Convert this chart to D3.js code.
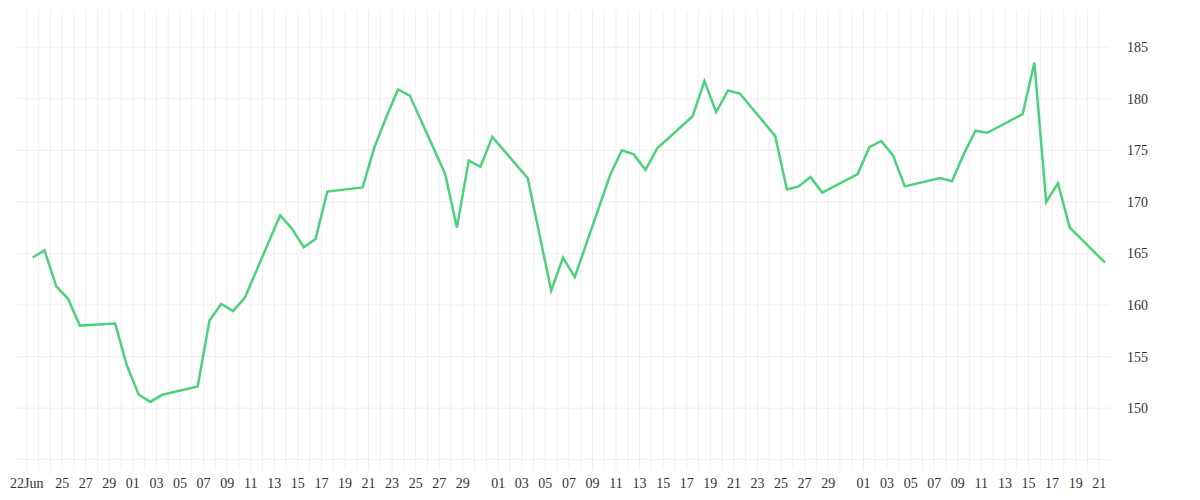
<!DOCTYPE html>
<html>
<head>
<meta charset="utf-8">
<script src="https://cdn.jsdelivr.net/npm/d3@7"></script>
<style>
  body { margin: 0; background: #fff; }
  text { font-family: "Liberation Serif", "DejaVu Serif", serif; font-size: 14px; fill: #333; }
</style>
</head>
<body>
<script>
// trading days and closing values
var dates = ["2020-06-22","2020-06-23","2020-06-24","2020-06-25","2020-06-26",
  "2020-06-29","2020-06-30","2020-07-01","2020-07-02","2020-07-03",
  "2020-07-06","2020-07-07","2020-07-08","2020-07-09","2020-07-10",
  "2020-07-13","2020-07-14","2020-07-15","2020-07-16","2020-07-17",
  "2020-07-20","2020-07-21","2020-07-22","2020-07-23","2020-07-24",
  "2020-07-27","2020-07-28","2020-07-29","2020-07-30","2020-07-31",
  "2020-08-03","2020-08-05","2020-08-06","2020-08-07",
  "2020-08-10","2020-08-11","2020-08-12","2020-08-13","2020-08-14",
  "2020-08-17","2020-08-18","2020-08-19","2020-08-20","2020-08-21",
  "2020-08-24","2020-08-25","2020-08-26","2020-08-27","2020-08-28",
  "2020-08-31","2020-09-01","2020-09-02","2020-09-03","2020-09-04",
  "2020-09-07","2020-09-08","2020-09-09","2020-09-10","2020-09-11",
  "2020-09-14","2020-09-15","2020-09-16","2020-09-17","2020-09-18",
  "2020-09-21"];
var values = [164.6,165.3,161.8,160.6,158.0,
  158.2,154.1,151.3,150.6,151.3,
  152.1,158.5,160.1,159.4,160.7,
  168.7,167.4,165.6,166.4,171.0,
  171.4,175.3,178.2,180.9,180.3,
  172.7,167.5,174.0,173.4,176.3,
  172.3,161.4,164.6,162.7,
  172.6,175.0,174.6,173.1,175.2,
  178.3,181.7,178.7,180.8,180.5,
  176.4,171.2,171.5,172.4,170.9,
  172.7,175.3,175.9,174.5,171.5,
  172.3,172.0,174.6,176.9,176.7,
  178.5,183.5,170.0,171.8,167.5,
  164.1];
var yTicks = [150,155,160,165,170,175,180,185];
var yGrid = [145,150,155,160,165,170,175,180,185];

function initialize(){
	var w = 1200, h = 500;
	var left = 16, right = 1110, top = 10, bottom = 470;

	var svg = d3.select("body").append("svg")
		.attr("width", w).attr("height", h).attr("class", "container");

	var parse = d3.utcParse("%Y-%m-%d");
	var points = dates.map(function(d, i){ return {date: d3.utcHour.offset(parse(d), 12), value: values[i]}; });

	var x = d3.scaleUtc()
		.domain([d3.utcHour.offset(parse("2020-06-21"), 2), d3.utcHour.offset(parse("2020-09-21"), 22)])
		.range([left, right]);
	var y = d3.scaleLinear().domain([144, 188.6]).range([bottom, top]);

	//daily vertical grid
	var days = d3.utcDay.range(parse("2020-06-22"), parse("2020-09-22"));
	svg.append("g").attr("class", "vgrid").selectAll("line").data(days).enter().append("line")
		.attr("x1", function(d){ return x(d); }).attr("x2", function(d){ return x(d); })
		.attr("y1", top).attr("y2", bottom)
		.attr("stroke", "#efefef").attr("stroke-width", 1);

	svg.append("g").attr("class", "hgrid").selectAll("line").data(yGrid).enter().append("line")
		.attr("x1", left).attr("x2", right)
		.attr("y1", function(d){ return y(d); }).attr("y2", function(d){ return y(d); })
		.attr("stroke", "#efefef").attr("stroke-width", 1);

	//x labels: odd days, first one with month
	var tickDays = days.filter(function(d){
		var n = d.getUTCDate();
		if (d.getUTCMonth() === 5 && n === 22) return true;
		if (d.getUTCMonth() === 5 && n < 25) return false;
		return n % 2 === 1 && n !== 31;
	});
	var fmt = function(d){
		return d.getUTCMonth() === 5 && d.getUTCDate() === 22 ? "22Jun" : d3.utcFormat("%d")(d);
	};
	svg.append("g").attr("class", "xlabels").selectAll("text").data(tickDays).enter().append("text")
		.attr("x", function(d){ return x(d); }).attr("y", 488)
		.attr("text-anchor", "middle").text(fmt);

	svg.append("g").attr("class", "ylabels").selectAll("text").data(yTicks).enter().append("text")
		.attr("x", 1127).attr("y", function(d){ return y(d) + 5; })
		.text(function(d){ return d; });

	var line = d3.line().x(function(d){ return x(d.date); }).y(function(d){ return y(d.value); });
	svg.append("path").datum(points).attr("class", "price")
		.attr("d", line).attr("fill", "none")
		.attr("stroke", "#4cd27c").attr("stroke-width", 2.5)
		.attr("stroke-linejoin", "miter");
};

window.onload = initialize();
</script>
</body>
</html>
